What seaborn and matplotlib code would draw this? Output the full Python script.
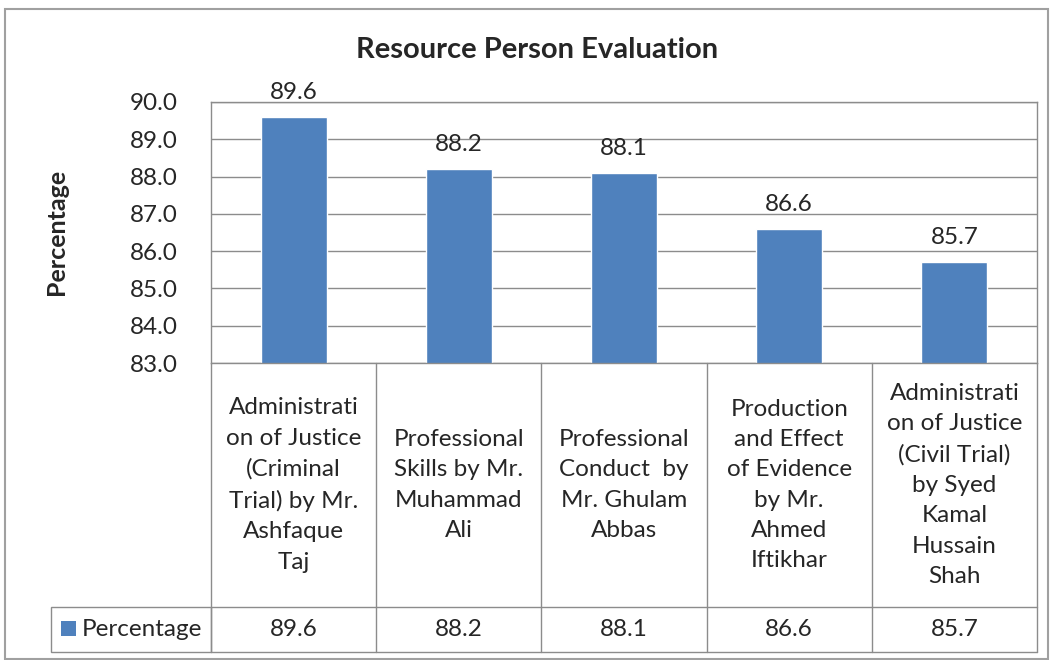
import matplotlib
matplotlib.use("Agg")
import matplotlib.pyplot as plt
import matplotlib.transforms as mtransforms
from matplotlib.patches import Rectangle
import pandas as pd
import seaborn as sns

# data
categories = [
    "Administrati\non of Justice\n(Criminal\nTrial) by Mr.\nAshfaque\nTaj",
    "Professional\nSkills by Mr.\nMuhammad\nAli",
    "Professional\nConduct  by\nMr. Ghulam\nAbbas",
    "Production\nand Effect\nof Evidence\nby Mr.\nAhmed\nIftikhar",
    "Administrati\non of Justice\n(Civil Trial)\nby Syed\nKamal\nHussain\nShah",
]
values = [89.6, 88.2, 88.1, 86.6, 85.7]
yticks = [83.0, 84.0, 85.0, 86.0, 87.0, 88.0, 89.0, 90.0]

BLUE = "#4F81BD"
GRID = "#8C8C8C"
FS = 17.5

sns.set_style("white")
plt.rcParams["font.family"] = ["Lato", "DejaVu Sans"]

df = pd.DataFrame({"cat": categories, "val": values})

fig = plt.figure(figsize=(10.5, 6.6), dpi=100)
ax = fig.add_axes([211 / 1050, 1 - 363 / 660, (1037 - 211) / 1050, (363 - 102) / 660])

sns.barplot(data=df, x="cat", y="val", color=BLUE, width=0.4, saturation=1, ax=ax)

ax.set_ylim(83, 90)
ax.set_xlim(-0.5, len(values) - 0.5)
ax.set_yticks(yticks)
ax.set_yticklabels([f"{t:.1f}" for t in yticks], fontsize=FS)
ax.tick_params(axis="y", length=0, pad=24)
ax.set_xticks([])
ax.set_xlabel("")
ax.set_ylabel("")
ax.yaxis.grid(True, color=GRID, linewidth=1)
ax.set_axisbelow(True)
for s in ax.spines.values():
    s.set_color(GRID)
    s.set_linewidth(1)

# data labels
for i, v in enumerate(values):
    ax.text(i, v + 0.38, f"{v:.1f}", ha="center", va="bottom", fontsize=FS)

# category cells and data table
trans = mtransforms.blended_transform_factory(ax.transData, ax.transAxes)
h = 363 - 102
y_cat_bot = (363 - 607) / h
y_tab_bot = (363 - 652) / h
for i in range(len(values) + 1):
    ax.plot([i - 0.5, i - 0.5], [0, y_tab_bot], color=GRID, lw=1,
            transform=trans, clip_on=False)
ax.plot([-0.5, len(values) - 0.5], [y_cat_bot, y_cat_bot], color=GRID, lw=1,
        transform=trans, clip_on=False)
ax.plot([-0.5, len(values) - 0.5], [y_tab_bot, y_tab_bot], color=GRID, lw=1,
        transform=trans, clip_on=False)
for i, (c, v) in enumerate(zip(categories, values)):
    ax.text(i, y_cat_bot / 2, c, ha="center", va="center", fontsize=FS,
            linespacing=1.55, transform=trans)
    ax.text(i, (y_cat_bot + y_tab_bot) / 2, f"{v:.1f}", ha="center",
            va="center", fontsize=FS, transform=trans)

# legend cell
fig.add_artist(Rectangle((51 / 1050, 1 - 652 / 660), (211 - 51) / 1050, 45 / 660,
                         transform=fig.transFigure, fill=False, edgecolor=GRID, lw=1))
fig.add_artist(Rectangle((61 / 1050, 1 - 636 / 660), 15 / 1050, 15 / 660,
                         transform=fig.transFigure, facecolor=BLUE, edgecolor="none"))
fig.text(82 / 1050, 1 - 629 / 660, "Percentage", ha="left", va="center", fontsize=FS)

# title and y label
fig.text(537 / 1050, 1 - 50 / 660, "Resource Person Evaluation", ha="center",
         va="center", fontsize=21, fontweight="bold")
fig.text(57 / 1050, 1 - 232 / 660, "Percentage", ha="center", va="center",
         rotation=90, fontsize=18, fontweight="bold")

# outer chart border
fig.add_artist(Rectangle((5 / 1050, 1 / 660), 1043 / 1050, 650 / 660,
                         transform=fig.transFigure, fill=False, edgecolor="#A0A0A0", lw=1.5))

fig.savefig("out.png", dpi=100)
